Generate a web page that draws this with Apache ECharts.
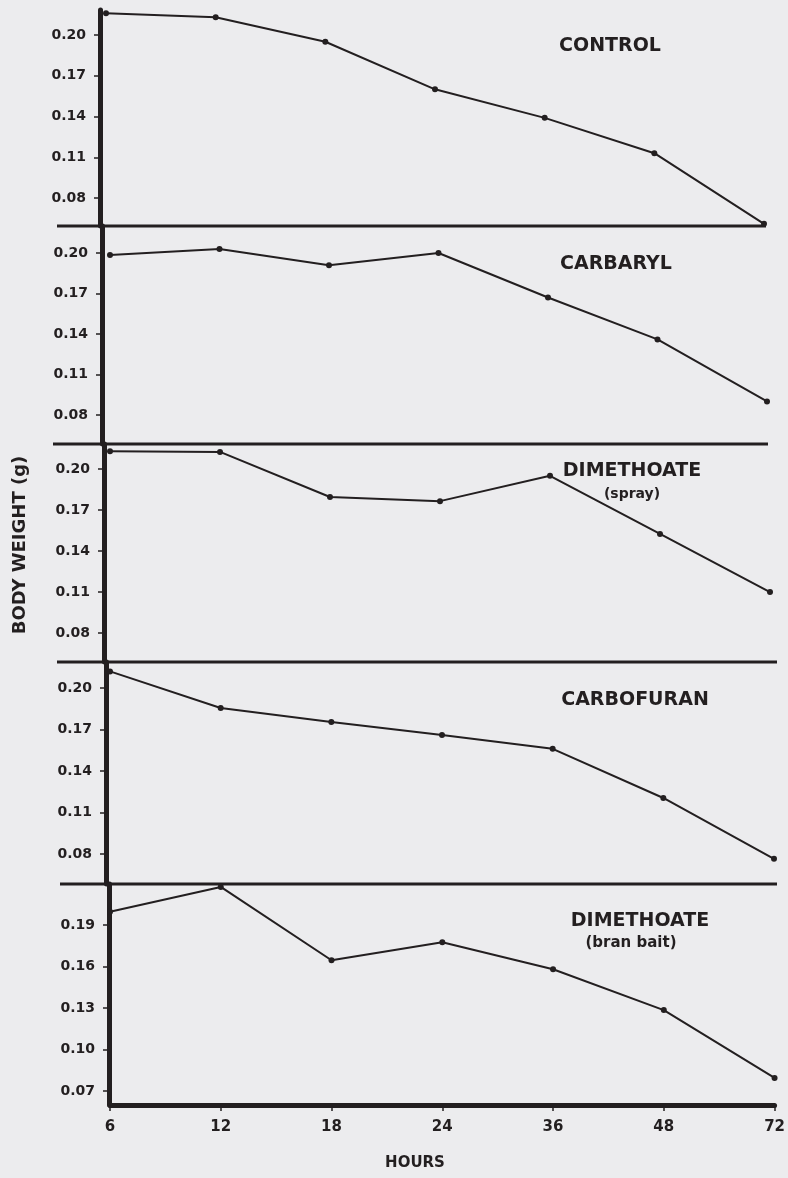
<!DOCTYPE html>
<html>
<head>
<meta charset="utf-8">
<script src="https://cdn.jsdelivr.net/npm/echarts@6/dist/echarts.min.js"></script>
<style>
html,body{margin:0;padding:0;background:#ececee;}
#c{width:788px;height:1178px;}
</style>
</head>
<body>
<div id="c"></div>
<script>
// ---- data ----
const hours = ['6', '12', '18', '24', '36', '48', '72'];
const control     = [0.216, 0.213, 0.195, 0.160, 0.139, 0.113, 0.061];
const carbaryl    = [0.1985, 0.203, 0.191, 0.200, 0.167, 0.136, 0.090];
const dimSpray    = [0.213, 0.2125, 0.1795, 0.1765, 0.195, 0.1525, 0.110];
const carbofuran  = [0.212, 0.1855, 0.1755, 0.166, 0.156, 0.1205, 0.0765];
const dimBranBait = [0.1995, 0.2175, 0.1645, 0.1775, 0.158, 0.1285, 0.0795];
const seriesList = [control, carbaryl, dimSpray, carbofuran, dimBranBait];

const panelNames = ['CONTROL', 'CARBARYL', 'DIMETHOATE', 'CARBOFURAN', 'DIMETHOATE'];
const panelSubs  = ['', '', '(spray)', '', '(bran bait)'];

const ticksUpper = [0.08, 0.11, 0.14, 0.17, 0.20];
const ticksLower = [0.07, 0.10, 0.13, 0.16, 0.19];
const panelTicks = [ticksUpper, ticksUpper, ticksUpper, ticksUpper, ticksLower];
const yMins = [0.0594, 0.0585, 0.0588, 0.0583, 0.0599];
const yMaxs = [0.2184, 0.2200, 0.2183, 0.2188, 0.2196];

const yTitle = 'BODY WEIGHT (g)';
const xTitle = 'HOURS';

// ---- layout ----
const W = 788;
const tops    = [10, 226, 444, 662, 884];
const bottoms = [226, 444, 662, 884, 1105];
const lefts   = [106, 110, 110, 110, 110];
const rightsX = [764, 767, 770, 774, 777];
const axisX   = [100, 102, 104, 106, 109];
const sepLeft  = [57, 53, 57, 60];
const sepRight = [766, 768, 777, 777];
const titlePos = [[610, 46], [616, 264], [632, 471], [635, 700], [640, 921]];
const subPos   = [null, null, [632, 494], null, [631, 943]];

const ink = '#231f20';
const font = 'DejaVu Sans';

const grids = [], xAxes = [], yAxes = [], series = [], graphics = [];
for (let i = 0; i < 5; i++) {
  grids.push({ left: lefts[i], right: W - rightsX[i], top: tops[i], height: bottoms[i] - tops[i] });
  const last = i === 4;
  xAxes.push({
    type: 'category', gridIndex: i, data: hours, boundaryGap: false,
    show: last,
    axisLine: { show: last, lineStyle: { color: ink, width: 5 } },
    axisTick: { show: last, length: 6, lineStyle: { color: ink, width: 1.5 } },
    axisLabel: { show: last, color: ink, fontFamily: font, fontWeight: 'bold', fontSize: 15, margin: 15 },
    splitLine: { show: false }
  });
  yAxes.push({
    type: 'value', gridIndex: i, min: yMins[i], max: yMaxs[i],
    offset: lefts[i] - axisX[i],
    axisLine: { show: true, lineStyle: { color: ink, width: 5 } },
    axisTick: { show: true, length: 6, customValues: panelTicks[i], lineStyle: { color: ink, width: 1.5 } },
    axisLabel: {
      customValues: panelTicks[i], color: ink, fontFamily: font, fontWeight: 'bold', fontSize: 14, margin: 14,
      formatter: v => v.toFixed(2)
    },
    splitLine: { show: false }
  });
  series.push({
    type: 'line', xAxisIndex: i, yAxisIndex: i, data: seriesList[i],
    symbol: 'circle', symbolSize: 6, clip: false,
    lineStyle: { color: ink, width: 2 },
    itemStyle: { color: ink },
    animation: false
  });
  graphics.push({
    type: 'text', x: titlePos[i][0], y: titlePos[i][1],
    style: { text: panelNames[i], fill: ink, font: 'bold 19px "' + font + '"', align: 'center', verticalAlign: 'middle' }
  });
  if (panelSubs[i]) {
    graphics.push({
      type: 'text', x: subPos[i][0], y: subPos[i][1],
      style: { text: panelSubs[i], fill: ink, font: 'bold ' + (i === 4 ? 15 : 14) + 'px "' + font + '"', align: 'center', verticalAlign: 'middle' }
    });
  }
  if (i < 4) {
    graphics.push({
      type: 'line', shape: { x1: sepLeft[i], y1: bottoms[i], x2: sepRight[i], y2: bottoms[i] },
      style: { stroke: ink, lineWidth: 3 }
    });
  }
}
graphics.push({
  type: 'text', x: 20, y: 545, rotation: Math.PI / 2,
  style: { text: yTitle, fill: ink, font: 'bold 18px "' + font + '"', align: 'center', verticalAlign: 'middle' }
});
graphics.push({
  type: 'text', x: 415, y: 1163,
  style: { text: xTitle, fill: ink, font: 'bold 15px "' + font + '"', align: 'center', verticalAlign: 'middle' }
});

const chart = echarts.init(document.getElementById('c'), null, { renderer: 'canvas' });
chart.setOption({
  backgroundColor: '#ececee',
  animation: false,
  grid: grids, xAxis: xAxes, yAxis: yAxes, series: series,
  graphic: graphics
});
</script>
</body>
</html>
